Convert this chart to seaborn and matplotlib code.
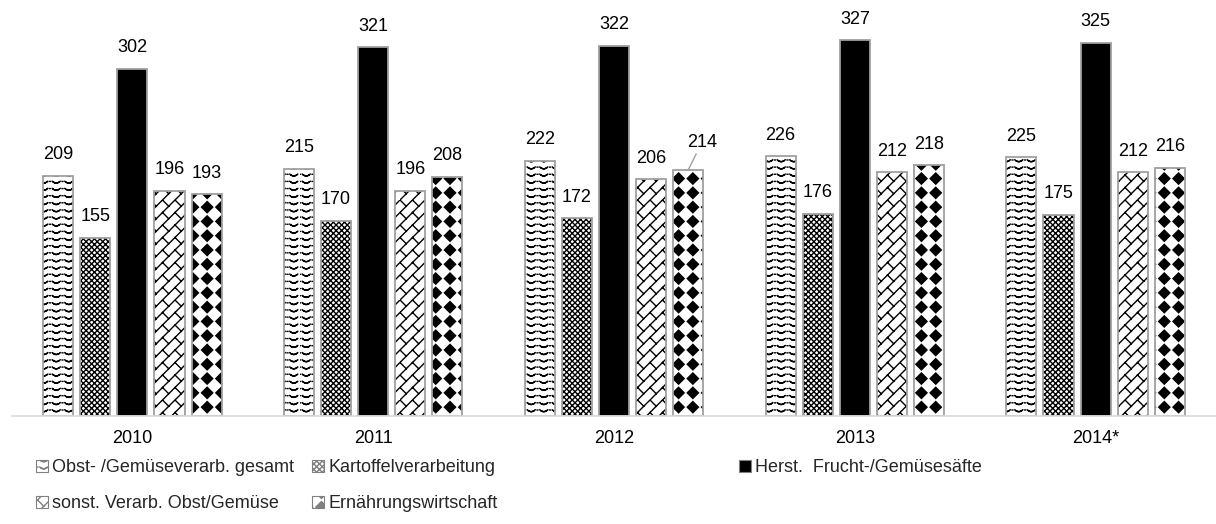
import warnings
warnings.filterwarnings("ignore")

import numpy as np
import pandas as pd
import matplotlib
matplotlib.use("Agg")
import matplotlib.pyplot as plt
import matplotlib.hatch as mhatch
from matplotlib.path import Path
from matplotlib.patches import Patch
import seaborn as sns

# ---------------------------------------------------------------- data
years = ["2010", "2011", "2012", "2013", "2014*"]
series = [
    "Obst- /Gemüseverarb. gesamt",
    "Kartoffelverarbeitung",
    "Herst.  Frucht-/Gemüsesäfte",
    "sonst. Verarb. Obst/Gemüse",
    "Ernährungswirtschaft",
]
obst_gemuese_gesamt = [209, 215, 222, 226, 225]
kartoffelverarbeitung = [155, 170, 172, 176, 175]
frucht_gemuesesaefte = [302, 321, 322, 327, 325]
sonst_obst_gemuese = [196, 196, 206, 212, 212]
ernaehrungswirtschaft = [193, 208, 214, 218, 216]

values = [obst_gemuese_gesamt, kartoffelverarbeitung, frucht_gemuesesaefte,
          sonst_obst_gemuese, ernaehrungswirtschaft]

df = pd.DataFrame(
    [(y, s, v) for s, vals in zip(series, values) for y, v in zip(years, vals)],
    columns=["Jahr", "Bereich", "Wert"],
)


# ---------------------------------------------------------------- extra hatch patterns
def _clip_unit(p0, p1):
    """Clip a segment to the unit square (Liang-Barsky)."""
    (x0, y0), (x1, y1) = p0, p1
    dx, dy = x1 - x0, y1 - y0
    t0, t1 = 0.0, 1.0
    for p, q in ((-dx, x0), (dx, 1 - x0), (-dy, y0), (dy, 1 - y0)):
        if p == 0:
            if q < 0:
                return None
        else:
            r = q / p
            if p < 0:
                t0 = max(t0, r)
            else:
                t1 = min(t1, r)
    if t0 >= t1:
        return None
    return (x0 + t0 * dx, y0 + t0 * dy), (x0 + t1 * dx, y0 + t1 * dy)


class _SegmentHatch(mhatch.HatchPatternBase):
    char = "?"

    def __init__(self, hatch, density):
        self.segs = self.segments() if self.char in hatch else []
        self.num_vertices = 2 * len(self.segs)

    def segments(self):
        return []

    def set_vertices_and_codes(self, vertices, codes):
        for i, (a, b) in enumerate(self.segs):
            vertices[2 * i] = a
            vertices[2 * i + 1] = b
            codes[2 * i] = Path.MOVETO
            codes[2 * i + 1] = Path.LINETO


class CupHatch(_SegmentHatch):
    """Rows of small cups with dots between them ('~')."""
    char = "~"

    def segments(self):
        rows, periods, amp = 14, 8, 0.018
        w = 1 / periods
        segs = []
        for j in range(rows):
            y0 = (j + 0.5) / rows
            for k in range(periods):
                xc = (k + 0.5) * w
                xs = np.linspace(xc - 0.32 * w, xc + 0.32 * w, 9)
                ys = y0 - amp / 2 + amp * ((xs - xc) / (0.32 * w)) ** 2
                pts = list(zip(xs, ys))
                segs += list(zip(pts[:-1], pts[1:]))
                segs.append(((k * w - 0.004, y0 + amp * 0.4),
                             (k * w + 0.004, y0 + amp * 0.4)))
        return segs


class BrickHatch(_SegmentHatch):
    """Diagonal brick pattern ('b')."""
    char = "b"

    def segments(self):
        n, period = 8, 0.25
        segs = []
        for k in range(-n - 1, n + 2):
            c = k / n
            s = _clip_unit((-2.0, -2.0 + c), (3.0, 3.0 + c))
            if s:
                segs.append(s)
            off = (k % 2) * period / 2
            for m in range(-12, 13):
                sv = off + m * period
                x1 = (sv - c) / 2
                y1 = x1 + c
                s = _clip_unit((x1, y1), (x1 + 0.5 / n, y1 - 0.5 / n))
                if s:
                    segs.append(s)
        return segs


class DiamondHatch(mhatch.HatchPatternBase):
    """Grid of filled diamonds ('D')."""

    def __init__(self, hatch, density):
        self.n = 7 if "D" in hatch else 0
        self.num_vertices = self.n * self.n * 5

    def set_vertices_and_codes(self, vertices, codes):
        h = 0.056
        i = 0
        for a in range(self.n):
            for b in range(self.n):
                cx, cy = (a + 0.5) / self.n, (b + 0.5) / self.n
                vertices[i:i + 5] = [(cx - h, cy), (cx, cy - h), (cx + h, cy),
                                     (cx, cy + h), (cx - h, cy)]
                codes[i:i + 5] = [Path.MOVETO, Path.LINETO, Path.LINETO,
                                  Path.LINETO, Path.CLOSEPOLY]
                i += 5


mhatch._hatch_types += [CupHatch, BrickHatch, DiamondHatch]

# ---------------------------------------------------------------- styling
faces = dict(zip(series, ["white", "white", "black", "white", "white"]))
hatches = ["~", "xxxxxx", "", "b", "D"]
outline = "#a0a0a0"
font = "Liberation Sans"
fs = 13

sns.set_theme(style="white")
plt.rcParams["font.family"] = [font, "DejaVu Sans"]
plt.rcParams["hatch.linewidth"] = 1.0

fig = plt.figure(figsize=(12.16, 5.24), dpi=100)
ax = fig.add_axes([12 / 1216, 108 / 524, 1204 / 1216, 416 / 524])

# filled, hatched bars
sns.barplot(data=df, x="Jahr", y="Wert", hue="Bereich", order=years,
            hue_order=series, palette=faces, saturation=1, width=0.77, gap=0.19,
            errorbar=None, legend=False, ax=ax)
fill_containers = list(ax.containers)
for cont, h in zip(fill_containers, hatches):
    for p in cont:
        p.set_hatch(h)
        p.set_edgecolor("black")
        p.set_linewidth(0)

# grey outlines on top
n_before = len(ax.containers)
sns.barplot(data=df, x="Jahr", y="Wert", hue="Bereich", order=years,
            hue_order=series, palette=faces, saturation=1, width=0.77, gap=0.19,
            errorbar=None, legend=False, fill=False, ax=ax)
for cont in ax.containers[n_before:]:
    for p in cont:
        p.set_facecolor("none")
        p.set_edgecolor(outline)
        p.set_linewidth(1.3)

# value labels (one of them lifted aside with a leader line)
for si, (cont, vals) in enumerate(zip(fill_containers, values)):
    labels = []
    for yi, v in enumerate(vals):
        if si == 4 and yi == 2:
            labels.append("")
            p = cont[yi]
            ax.annotate(str(v), xy=(p.get_x() + p.get_width() / 2, p.get_height()),
                        xytext=(10, 14), textcoords="offset points",
                        ha="center", va="bottom", fontsize=fs, color="black",
                        arrowprops=dict(arrowstyle="-", color=outline, lw=1,
                                        shrinkA=0, shrinkB=0))
        else:
            labels.append(str(v))
    ax.bar_label(cont, labels=labels, padding=9, fontsize=fs, color="black")

ax.set_xlim(-0.5, 4.5)
ax.set_ylim(0, 362)
ax.set_xlabel("")
ax.set_ylabel("")
ax.set_yticks([])
ax.tick_params(axis="x", length=0, pad=10, labelsize=fs, labelcolor="black")
for side in ("left", "right", "top"):
    ax.spines[side].set_visible(False)
ax.spines["bottom"].set_color("#d9d9d9")
ax.spines["bottom"].set_linewidth(1.2)
ax.set_facecolor("white")
ax.grid(False)

# legend: three columns placed along the bottom
handles = [Patch(facecolor=faces[s], edgecolor="#808080", hatch=h, linewidth=0.8)
           for s, h in zip(series, hatches)]
columns = [([0, 3], 36), ([1, 4], 312), ([2], 739)]
legend_kw = dict(loc="upper left", frameon=False, fontsize=fs, borderpad=0,
                 borderaxespad=0, handlelength=0.65, handleheight=0.65,
                 handletextpad=0.25, labelspacing=1.08)
for idx, x_px in columns:
    fig.legend([handles[i] for i in idx], [series[i] for i in idx],
               bbox_to_anchor=(x_px / 1216, 1 - 459 / 524), **legend_kw)

fig.savefig("out.png", dpi=100, facecolor="white")
